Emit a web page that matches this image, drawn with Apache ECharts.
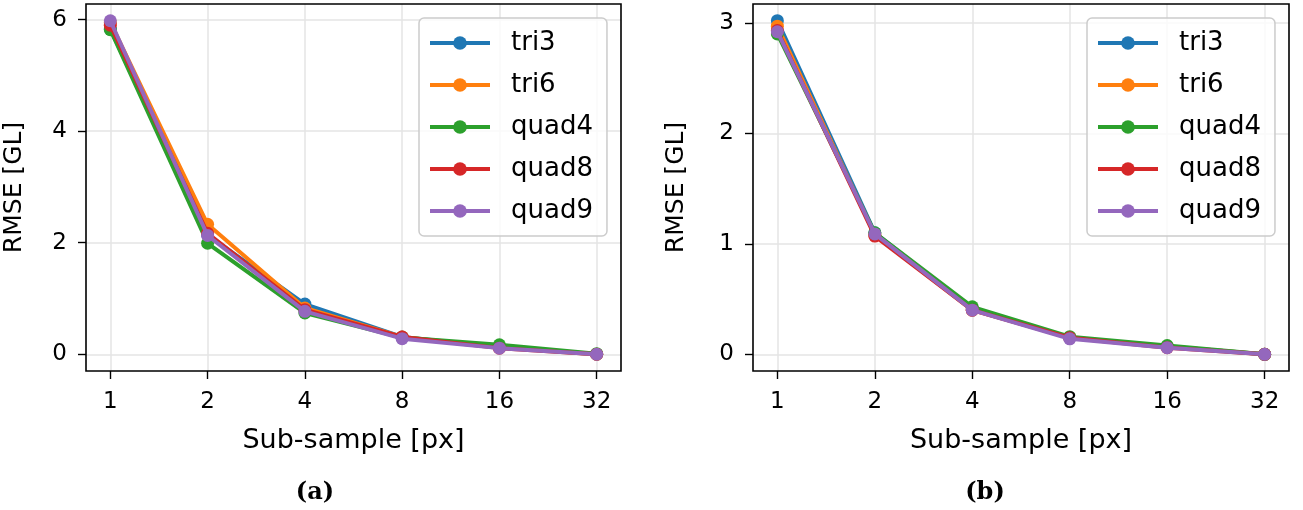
<!DOCTYPE html>
<html>
<head>
<meta charset="utf-8">
<title>RMSE vs sub-sample</title>
<script src="https://cdn.jsdelivr.net/npm/echarts@6/dist/echarts.min.js"></script>
<style>
  html, body { margin: 0; padding: 0; background: #fff; }
  #chart { width: 1303px; height: 510px; }
</style>
</head>
<body>
<div id="chart"></div>
<script>
// sub-sample sizes (x axis, log2)
const subSample = [1, 2, 4, 8, 16, 32];
const elementNames = ['tri3', 'tri6', 'quad4', 'quad8', 'quad9'];
const colors = ['#1f77b4', '#ff7f0e', '#2ca02c', '#d62728', '#9467bd'];

// panel (a)
const rmseA_tri3 = [5.83, 2.14, 0.90, 0.31, 0.13, 0.00];
const rmseA_tri6 = [5.95, 2.33, 0.83, 0.31, 0.12, 0.00];
const rmseA_quad4 = [5.82, 1.99, 0.74, 0.30, 0.17, 0.01];
const rmseA_quad8 = [5.90, 2.17, 0.80, 0.31, 0.11, 0.00];
const rmseA_quad9 = [5.98, 2.13, 0.77, 0.28, 0.11, 0.00];

// panel (b)
const rmseB_tri3 = [3.02, 1.10, 0.41, 0.15, 0.07, 0.00];
const rmseB_tri6 = [2.97, 1.08, 0.40, 0.15, 0.07, 0.00];
const rmseB_quad4 = [2.90, 1.10, 0.43, 0.16, 0.08, 0.00];
const rmseB_quad8 = [2.93, 1.07, 0.40, 0.15, 0.06, 0.00];
const rmseB_quad9 = [2.92, 1.09, 0.40, 0.14, 0.06, 0.00];

const yTicksA = [0, 2, 4, 6];
const yTicksB = [0, 1, 2, 3];
const captions = ['(a)', '(b)'];

const FONT = 'DejaVu Sans';
const rmseA = [rmseA_tri3, rmseA_tri6, rmseA_quad4, rmseA_quad8, rmseA_quad9];
const rmseB = [rmseB_tri3, rmseB_tri6, rmseB_quad4, rmseB_quad8, rmseB_quad9];

function makeSeries(values, idx) {
  return values.map((vals, i) => ({
    name: elementNames[i],
    type: 'line',
    xAxisIndex: idx,
    yAxisIndex: idx,
    data: vals.map((v, k) => [subSample[k], v]),
    symbol: 'circle',
    symbolSize: 13,
    color: colors[i],
    lineStyle: { width: 4, color: colors[i] },
    itemStyle: { color: colors[i] },
    emphasis: { disabled: true },
    animation: false,
    z: 2 + i
  }));
}

// only powers of two get a label, the padded ends stay blank
function powerOfTwo(v) {
  const e = Math.log2(v);
  return Math.abs(e - Math.round(e)) < 1e-6 ? String(Math.round(Math.pow(2, Math.round(e)))) : '';
}

function xAxis(gridIndex) {
  return {
    type: 'log',
    logBase: 2,
    gridIndex,
    min: Math.pow(2, -0.25),
    max: Math.pow(2, 5.25),
    name: 'Sub-sample [px]',
    nameLocation: 'middle',
    nameGap: 56,
    nameTextStyle: { fontFamily: FONT, fontSize: 27, color: '#000' },
    axisLine: { show: false, onZero: false },
    axisTick: { show: true, length: 8, lineStyle: { color: '#000', width: 1.4 }, customValues: subSample },
    axisLabel: { fontFamily: FONT, fontSize: 23, color: '#000', margin: 20, formatter: powerOfTwo, customValues: subSample },
    splitLine: { show: true, lineStyle: { color: '#e5e5e5', width: 1.5 } },
    minorTick: { show: false },
    minorSplitLine: { show: false }
  };
}

function yAxis(gridIndex, min, max, ticks, gap) {
  return {
    type: 'value',
    gridIndex,
    min,
    max,
    splitNumber: 3,
    name: 'RMSE [GL]',
    nameLocation: 'middle',
    nameGap: gap,
    nameTextStyle: { fontFamily: FONT, fontSize: 25, color: '#000' },
    axisLine: { show: false, onZero: false },
    axisTick: { show: true, length: 8, lineStyle: { color: '#000', width: 1.4 }, customValues: ticks },
    axisLabel: { fontFamily: FONT, fontSize: 23, color: '#000', margin: 19, customValues: ticks },
    splitLine: { show: true, lineStyle: { color: '#e5e5e5', width: 1.5 } }
  };
}

function legend(left) {
  return {
    orient: 'vertical',
    left,
    top: 18,
    data: elementNames,
    itemWidth: 60,
    itemHeight: 17,
    itemGap: 12,
    padding: [10, 14, 10, 9],
    backgroundColor: 'rgba(255,255,255,0.8)',
    borderColor: '#cccccc',
    borderWidth: 1.5,
    borderRadius: 5,
    selectedMode: false,
    lineStyle: { width: 4 },
    textStyle: { fontFamily: FONT, fontSize: 26, color: '#000', lineHeight: 30, padding: [0, 0, 0, 16] }
  };
}

const captionStyle = { fontFamily: 'DejaVu Serif', fontWeight: 'bold', fontSize: 24, color: '#000' };

const chart = echarts.init(document.getElementById('chart'), null, { renderer: 'canvas' });
chart.setOption({
  backgroundColor: '#fff',
  animation: false,
  title: [
    { text: captions[0], left: 310, top: 476, textAlign: 'center', textStyle: captionStyle },
    { text: captions[1], left: 980, top: 476, textAlign: 'center', textStyle: captionStyle }
  ],
  // z above the split lines so the black frame is not painted over
  grid: [
    { left: 86, top: 4, width: 535, height: 367, show: true, z: 10, borderColor: '#000', borderWidth: 1.6, backgroundColor: 'transparent' },
    { left: 753, top: 4, width: 536, height: 367, show: true, z: 10, borderColor: '#000', borderWidth: 1.6, backgroundColor: 'transparent' }
  ],
  xAxis: [xAxis(0), xAxis(1)],
  yAxis: [
    yAxis(0, -0.3, 6.28, yTicksA, 59),
    yAxis(1, -0.151, 3.171, yTicksB, 64)
  ],
  legend: [legend(419), legend(1087)],
  series: makeSeries(rmseA, 0).concat(makeSeries(rmseB, 1))
});
</script>
</body>
</html>
